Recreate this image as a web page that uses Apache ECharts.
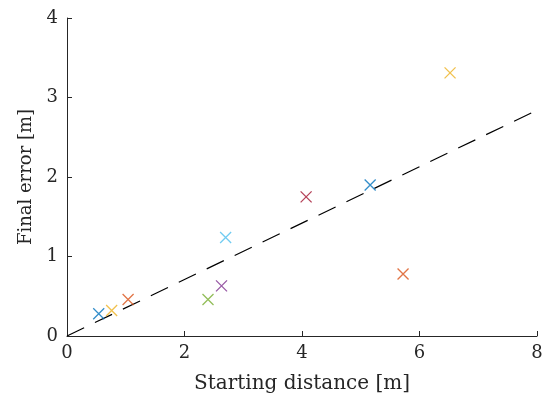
<!DOCTYPE html>
<html>
<head>
<meta charset="utf-8">
<script src="https://cdn.jsdelivr.net/npm/echarts@6/dist/echarts.min.js"></script>
<style>
  html, body { margin: 0; padding: 0; background: #fff; }
  #chart { width: 542px; height: 404px; }
</style>
</head>
<body>
<div id="chart"></div>
<script>
// one run per point, MATLAB default colour order
const startDist = [0.54, 1.04, 0.76, 2.63, 2.40, 2.70, 4.07, 5.16, 5.72, 6.52];
const finalErr = [0.28, 0.46, 0.32, 0.63, 0.46, 1.24, 1.75, 1.90, 0.78, 3.31];
const pointColors = [
  '#0072BD', '#D95319', '#EDB120', '#7E2F8E', '#77AC30',
  '#4DBEEE', '#A2142F', '#0072BD', '#D95319', '#EDB120',
];
const fitLine = [[0, 0], [8, 2.84]];

const xTicks = [0, 2, 4, 6, 8];
const yTicks = [0, 1, 2, 3, 4];

const FONT = 'DejaVu Serif';
const crossPath = 'path://M0,0L10,10M10,0L0,10';

function axisCommon() {
  return {
    axisLine: { lineStyle: { color: '#262626', width: 1 } },
    axisTick: { inside: true, length: 5, lineStyle: { color: '#262626', width: 1 } },
    axisLabel: { color: '#262626', fontFamily: FONT, fontSize: 18 },
    splitLine: { show: false },
    nameTextStyle: { color: '#262626', fontFamily: FONT, fontSize: 18 },
  };
}

const chart = echarts.init(document.getElementById('chart'));

const pointSeries = startDist.map((x, i) => ({
  type: 'scatter',
  data: [[x, finalErr[i]]],
  symbol: crossPath,
  symbolSize: 11,
  itemStyle: {
    color: 'rgba(0,0,0,0)',
    borderColor: pointColors[i],
    borderWidth: 1.3,
  },
  z: 3,
}));

chart.setOption({
  animation: false,
  backgroundColor: '#fff',
  grid: { left: 67, right: 5, top: 18, bottom: 68, outerBoundsMode: 'none' },
  xAxis: Object.assign(axisCommon(), {
    type: 'value',
    min: xTicks[0],
    max: xTicks[xTicks.length - 1],
    interval: 2,
    name: 'Starting distance [m]',
    nameLocation: 'middle',
    nameGap: 38,
    nameTextStyle: { color: '#262626', fontFamily: FONT, fontSize: 20 },
    axisLabel: Object.assign(axisCommon().axisLabel, { margin: 8 }),
  }),
  yAxis: Object.assign(axisCommon(), {
    type: 'value',
    min: yTicks[0],
    max: yTicks[yTicks.length - 1],
    interval: 1,
    name: 'Final error [m]',
    nameLocation: 'middle',
    nameGap: 32,
    axisLabel: Object.assign(axisCommon().axisLabel, { margin: 9 }),
  }),
  series: [
    {
      type: 'line',
      data: fitLine,
      symbol: 'none',
      lineStyle: { color: '#000', width: 1.2, type: [19, 12] },
      z: 2,
    },
  ].concat(pointSeries),
});
</script>
</body>
</html>
